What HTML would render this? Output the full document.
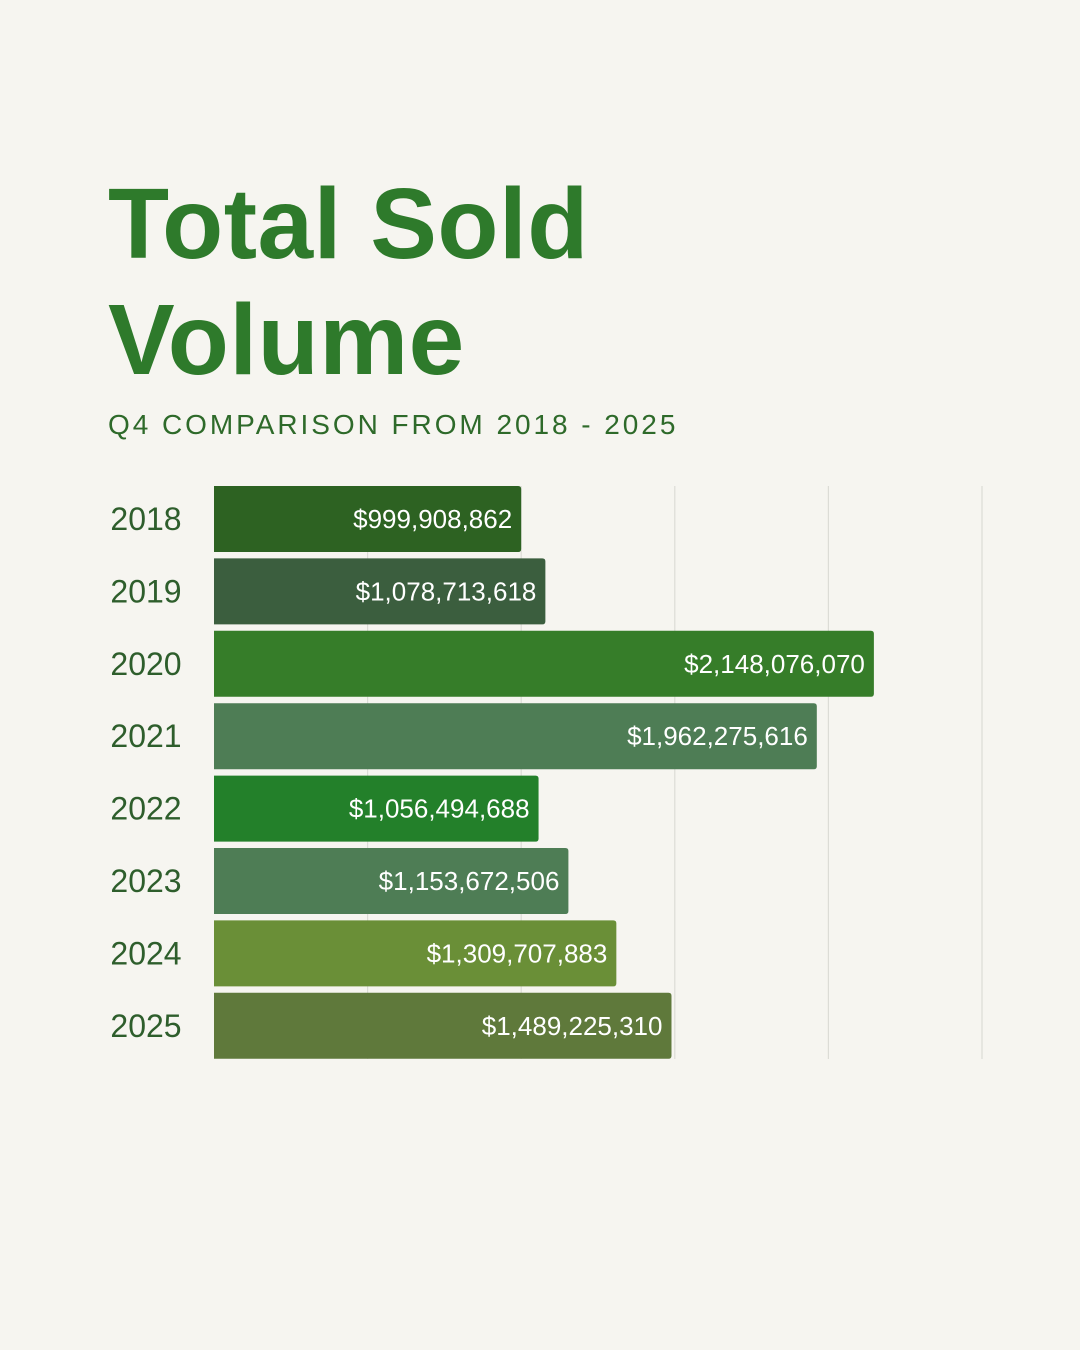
<!DOCTYPE html>
<html><head><meta charset="utf-8"><style>
body{margin:0;background:#f6f5f0;}
#wrap{position:relative;width:1080px;height:1350px;background:#f6f5f0;font-family:"Liberation Sans",sans-serif;overflow:hidden}
#title{position:absolute;left:108px;top:166px;margin:0;font-size:100px;line-height:116px;font-weight:bold;color:#2e7a2b;letter-spacing:0.5px}
#sub{position:absolute;left:108px;top:409px;font-size:28px;letter-spacing:2.95px;color:#2e6a2a}
</style></head><body>
<div id="wrap">
<h1 id="title">Total Sold<br>Volume</h1>
<div id="sub">Q4 COMPARISON FROM 2018 - 2025</div>
<svg id="chart" width="1080" height="1350" style="position:absolute;left:0;top:0"></svg>
</div>
<script>
const years=["2018","2019","2020","2021","2022","2023","2024","2025"];
const values=[999908862,1078713618,2148076070,1962275616,1056494688,1153672506,1309707883,1489225310];
const labels=["$999,908,862","$1,078,713,618","$2,148,076,070","$1,962,275,616","$1,056,494,688","$1,153,672,506","$1,309,707,883","$1,489,225,310"];
const colors=["#2d6222","#3b5e3e","#367d29","#4e7d55","#23802a","#4e7d55","#6a8f37","#5f793b"];
const gridTicks=[500000000,1000000000,1500000000,2000000000,2500000000];
const svg=document.getElementById('chart');
const NS="http://www.w3.org/2000/svg";
const x0=214,xMax=982,vMax=2500000000;
const xs=v=>x0+v/vMax*(xMax-x0);
const top0=486,pitch=72.4,bh=66;
gridTicks.forEach(t=>{
 const l=document.createElementNS(NS,'line');
 
 
 l.setAttribute('x1',xs(t));l.setAttribute('x2',xs(t));
 l.setAttribute('y1',486);l.setAttribute('y2',1059);
 l.setAttribute('stroke','#dcdcd6');l.setAttribute('stroke-width','1.2');
 svg.appendChild(l);
});
years.forEach((y,i)=>{
 const yt=top0+i*pitch;
 const w=xs(values[i])-x0;
 const p=document.createElementNS(NS,'path');
 
 
 const r=3;
 p.setAttribute('d',`M${x0},${yt}H${x0+w-r}Q${x0+w},${yt} ${x0+w},${yt+r}V${yt+bh-r}Q${x0+w},${yt+bh} ${x0+w-r},${yt+bh}H${x0}Z`);
 p.setAttribute('fill',colors[i]);
 svg.appendChild(p);
 const vl=document.createElementNS(NS,'text');
 
 
 vl.setAttribute('x',x0+w-9);vl.setAttribute('y',yt+bh/2+9);
 vl.setAttribute('text-anchor','end');vl.setAttribute('fill','#ffffff');
 vl.setAttribute('font-size','26');vl.setAttribute('font-family','Liberation Sans, sans-serif');
 vl.textContent=labels[i];
 svg.appendChild(vl);
 const yl=document.createElementNS(NS,'text');
 
 
 yl.setAttribute('x',146);yl.setAttribute('y',yt+bh/2+11);
 yl.setAttribute('text-anchor','middle');yl.setAttribute('fill','#2e5e2c');
 yl.setAttribute('font-size','32');yl.setAttribute('font-family','Liberation Sans, sans-serif');
 yl.textContent=y;
 svg.appendChild(yl);
});
</script>
</body></html>
